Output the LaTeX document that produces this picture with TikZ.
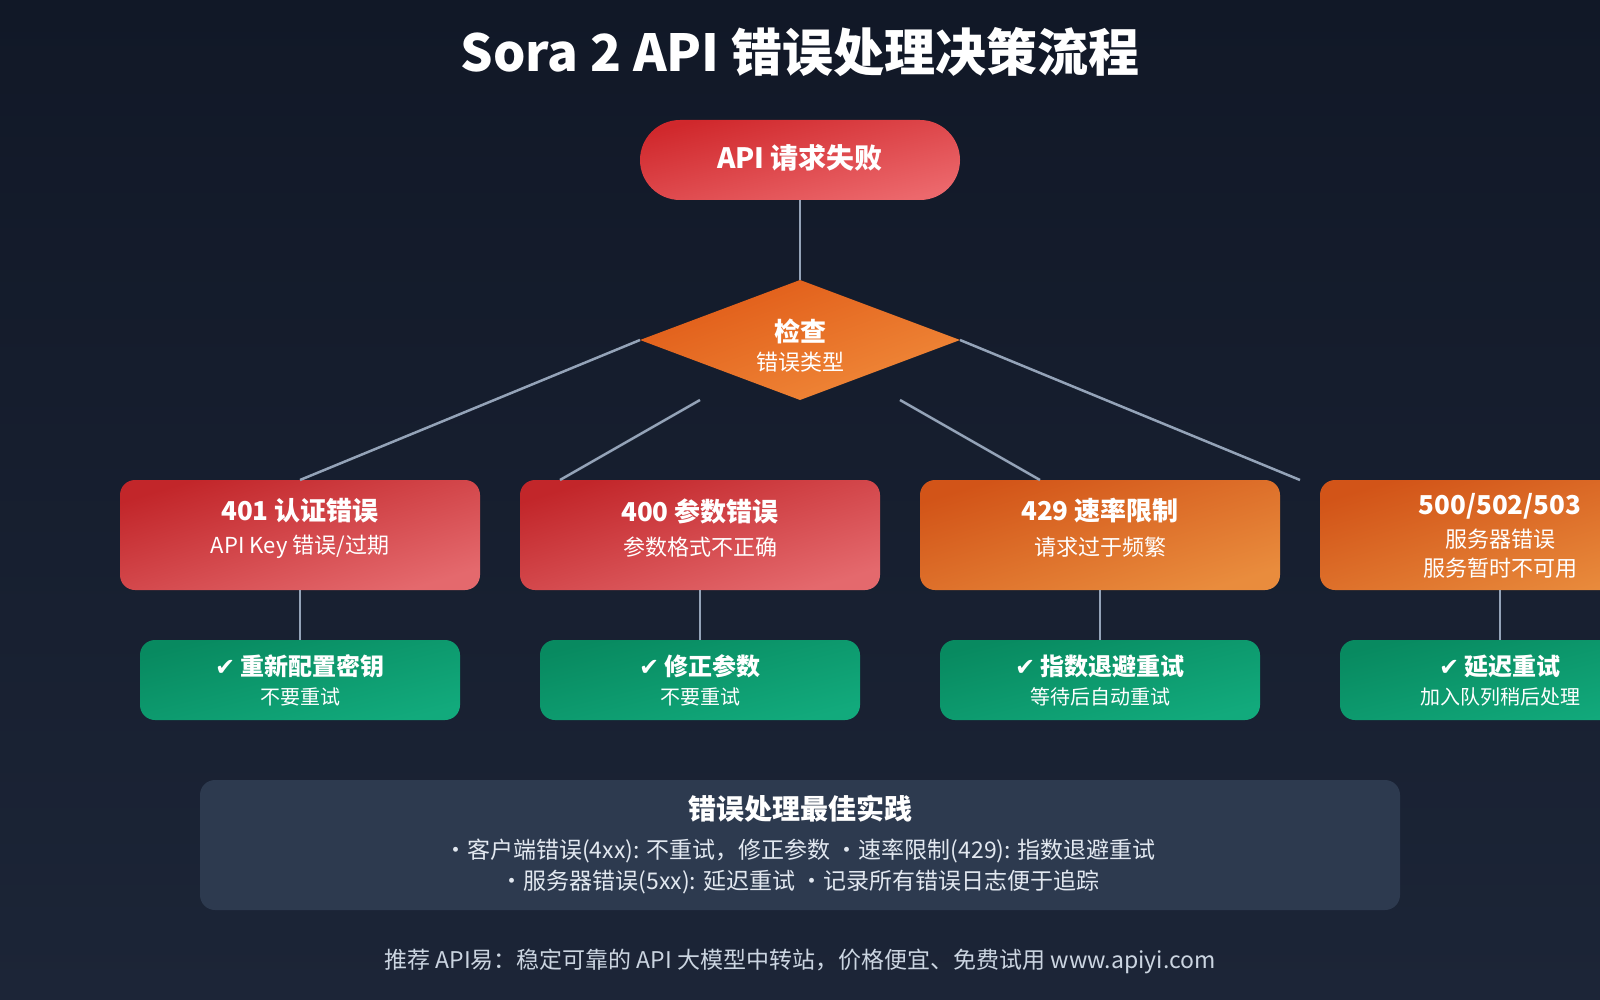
\documentclass[tikz,border=0pt]{standalone}
\usepackage{fontspec}
\setmainfont{Noto Sans CJK SC}
\newfontfamily\symf{DejaVu Sans}
\usetikzlibrary{shapes.geometric}
\definecolor{bgtop}{HTML}{111827}
\definecolor{bgbot}{HTML}{1C2537}
\definecolor{redA}{HTML}{C2262A}
\definecolor{redB}{HTML}{E4696D}
\definecolor{pillA}{HTML}{D0282C}
\definecolor{pillB}{HTML}{EC686C}
\definecolor{orA}{HTML}{D25418}
\definecolor{orB}{HTML}{E98C3D}
\definecolor{diaA}{HTML}{E05A17}
\definecolor{diaB}{HTML}{F08A3A}
\definecolor{grA}{HTML}{088A60}
\definecolor{grB}{HTML}{12AA7C}
\definecolor{panel}{HTML}{2D3A4F}
\definecolor{conn}{HTML}{94A3B8}
\definecolor{txtlight}{HTML}{E2E8F0}
\definecolor{foot}{HTML}{CBD5E1}
\newcommand{\fs}[1]{\fontsize{#1}{#1}\selectfont}
\begin{document}
\begin{tikzpicture}[x=1pt,y=-1pt,
  every node/.style={inner sep=0pt, outer sep=0pt},
  conline/.style={draw=conn, line width=2.5pt},
  errbox/.style={rounded corners=15pt, minimum width=360pt, minimum height=110pt},
  redbox/.style={errbox, top color=redA, bottom color=redB, shading angle=17},
  orbox/.style={errbox, top color=orA, bottom color=orB, shading angle=17},
  grbox/.style={rounded corners=15pt, minimum width=320pt, minimum height=80pt, top color=grA, bottom color=grB, shading angle=14},
  tbig/.style={text=white, font=\fs{26}\bfseries},
  tsub/.style={text=white, font=\fs{22}},
  gbig/.style={text=white, font=\fs{24}\bfseries},
  gsub/.style={text=white, font=\fs{20}}
]
\useasboundingbox (0,0) rectangle (1600,1000);
\clip (0,0) rectangle (1600,1000);
\shade[top color=bgtop, bottom color=bgbot] (0,0) rectangle (1600,1000);

% title
\node[text=white, font=\fs{51}\bfseries] (title) at (800,52) {Sora 2 API 错误处理决策流程};

% start pill
\node[rounded corners=40pt, minimum width=320pt, minimum height=80pt, top color=pillA, bottom color=pillB, shading angle=14] (pill) at (800,160) {};
\node[text=white, font=\fs{28}\bfseries] (pillt) at (800,158) {API 请求失败};

% diamond
\node[diamond, aspect=2.6667, minimum width=320pt, minimum height=120pt, top color=diaA, bottom color=diaB, shading angle=20] (dia) at (800,340) {};
\node[tbig] (diat1) at (800,331) {检查};
\node[tsub] (diat2) at (800,362) {错误类型};

% error boxes
\node[redbox] (b1) at (300,535) {};
\node[redbox] (b2) at (700,535) {};
\node[orbox] (b3) at (1100,535) {};
\node[orbox] (b4) at (1500,535) {};

\node[tbig] (b1t) at (300,511) {401 认证错误};
\node[tsub] (b1s) at (300,547) {API Key 错误/过期};
\node[tbig] (b2t) at (700,511) {400 参数错误};
\node[tsub] (b2s) at (700,547) {参数格式不正确};
\node[tbig] (b3t) at (1100,511) {429 速率限制};
\node[tsub] (b3s) at (1100,547) {请求过于频繁};
\node[tbig] (b4t) at (1500,506) {500/502/503};
\node[tsub] (b4s) at (1500,539) {服务器错误};
\node[tsub] (b4u) at (1500,568) {服务暂时不可用};

% green boxes
\node[grbox] (g1) at (300,680) {};
\node[grbox] (g2) at (700,680) {};
\node[grbox] (g3) at (1100,680) {};
\node[grbox] (g4) at (1500,680) {};

\node[gbig] (g1t) at (300,666) {{\symf\bfseries ✔} 重新配置密钥};
\node[gsub] (g1s) at (300,697) {不要重试};
\node[gbig] (g2t) at (700,666) {{\symf\bfseries ✔} 修正参数};
\node[gsub] (g2s) at (700,697) {不要重试};
\node[gbig] (g3t) at (1100,666) {{\symf\bfseries ✔} 指数退避重试};
\node[gsub] (g3s) at (1100,697) {等待后自动重试};
\node[gbig] (g4t) at (1500,666) {{\symf\bfseries ✔} 延迟重试};
\node[gsub] (g4s) at (1500,697) {加入队列稍后处理};

% connectors
\coordinate (c2) at (700,400);
\coordinate (c3) at (900,400);
\coordinate (c4) at (1300,480);
\draw[conline] (pill.south) -- (dia.north);
\draw[conline] (dia.west) -- (b1.north);
\draw[conline] (c2) -- ([xshift=40pt]b2.north west);
\draw[conline] (c3) -- ([xshift=120pt]b3.north west);
\draw[conline] (dia.east) -- (c4);
\draw[conline] (b1.south) -- (g1.north);
\draw[conline] (b2.south) -- (g2.north);
\draw[conline] (b3.south) -- (g3.north);
\draw[conline] (b4.south) -- (g4.north);

% best practice panel
\node[fill=panel, rounded corners=15pt, minimum width=1200pt, minimum height=130pt] (pan) at (800,845) {};
\node[text=white, font=\fs{28}\bfseries] (pant) at (800,809) {错误处理最佳实践};
\node[text=txtlight, font=\fs{23}] (pan1) at (800,851) {•客户端错误(4xx): 不重试，修正参数 •速率限制(429): 指数退避重试};
\node[text=txtlight, font=\fs{23}] (pan2) at (800,882) {•服务器错误(5xx): 延迟重试 •记录所有错误日志便于追踪};

% footer
\node[text=foot, font=\fs{23}] (foot) at (800,961) {推荐 API易：稳定可靠的 API 大模型中转站，价格便宜、免费试用 www.apiyi.com};
\end{tikzpicture}
\end{document}
